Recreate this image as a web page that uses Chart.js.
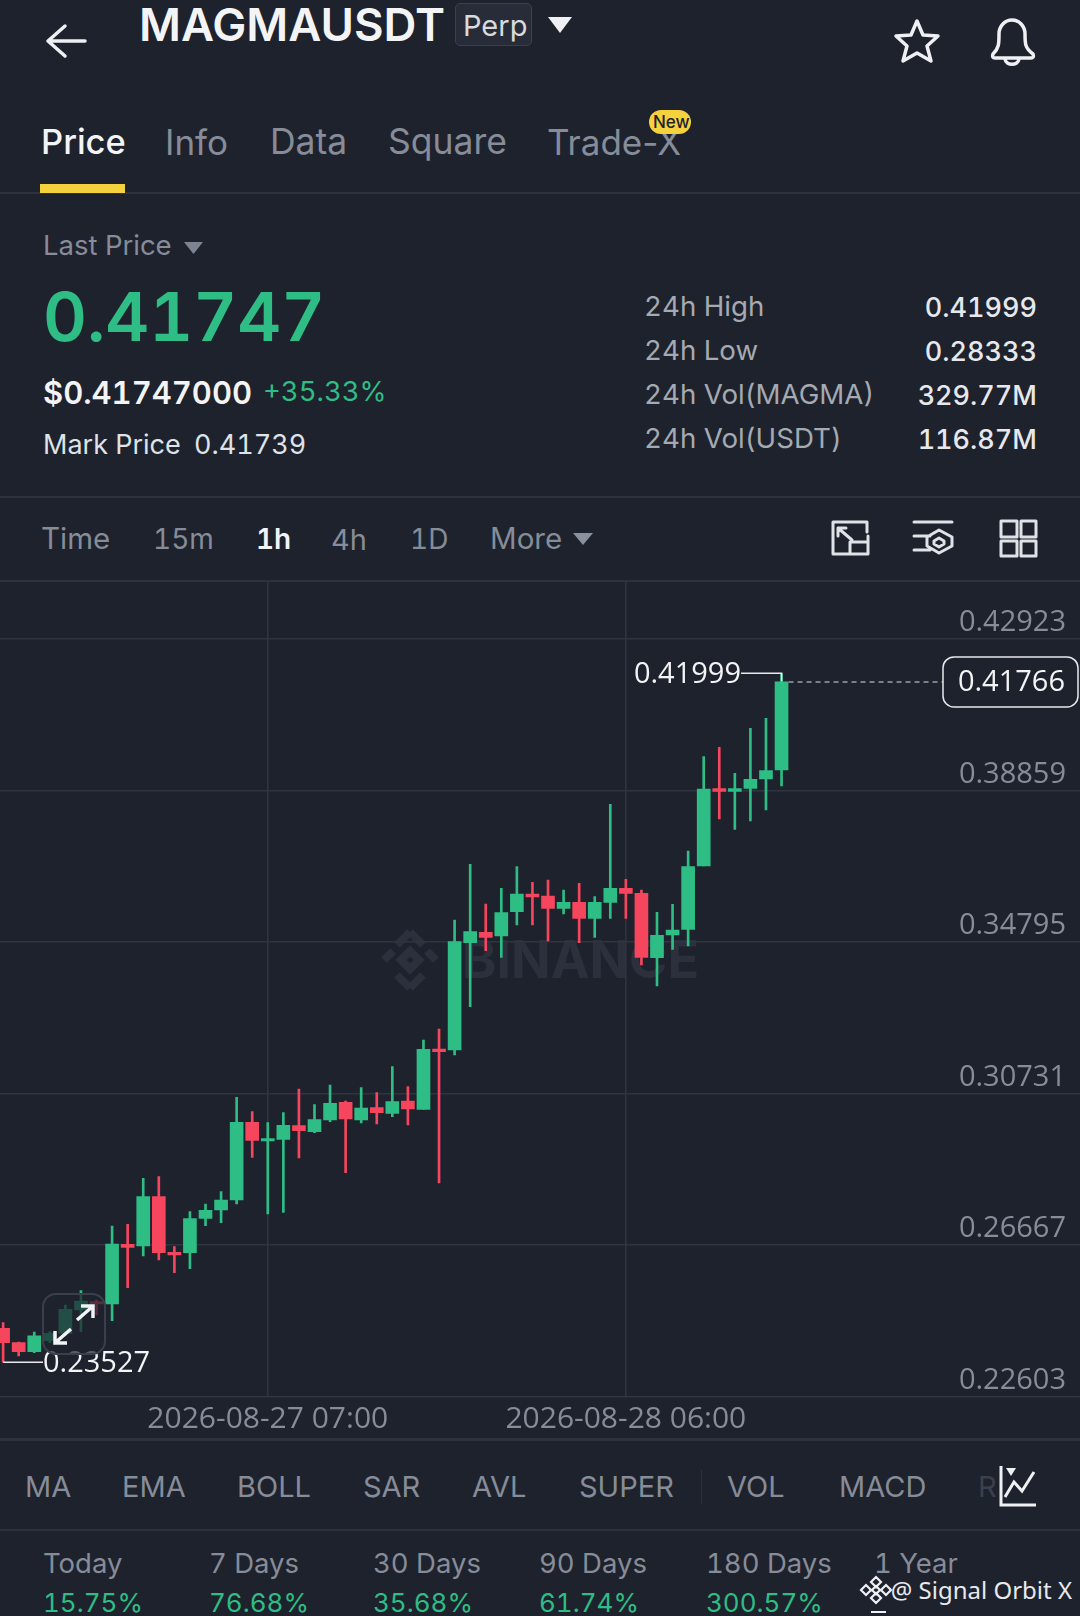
<!DOCTYPE html>
<html>
<head>
<meta charset="utf-8">
<title>MAGMAUSDT</title>
<script src="https://cdn.jsdelivr.net/npm/chart.js@4"></script>
<style>
  html, body { margin: 0; padding: 0; background: #1e222d; }
  #page { position: relative; width: 1080px; height: 1616px; overflow: hidden; background: #1e222d; font-family: Inter, sans-serif; }
  #page span.t { position: absolute; white-space: nowrap; line-height: 1; transform: translateY(-50%); font-feature-settings: "tnum"; }
  .line { position: absolute; left: 0; width: 1080px; background: #2c313c; }
  svg { position: absolute; overflow: visible; }
  #chart { position: absolute; left: 0; top: 581px; z-index: 1; }
  #expand { position: absolute; left: 42px; top: 1293px; width: 60px; height: 58px; border: 2px solid #3a3f4b; border-radius: 14px; background: rgba(30,34,45,0.72); z-index: 2; }
</style>
</head>
<body>
<div id="page">
  <div class="line" style="top:192px;height:2px"></div>
  <div style="position:absolute;left:40px;top:184px;width:85px;height:9px;background:#f5d13d"></div>
  <div class="line" style="top:496px;height:2px"></div>
  <div class="line" style="top:580px;height:2px"></div>
  <div class="line" style="top:1438px;height:3px"></div>
  <div class="line" style="top:1529px;height:2px"></div>
  <div style="position:absolute;left:455px;top:3px;width:77px;height:43px;border:1px solid #3a404c;border-radius:5px;background:#272c38;box-sizing:border-box"></div>
  <div style="position:absolute;left:649px;top:110px;width:42px;height:24px;border-radius:12px;background:#f5d13d;z-index:2"></div>
  <div style="position:absolute;left:701px;top:1470px;width:1px;height:34px;background:#2c313c"></div>

  <svg style="left:0;top:0" width="1080" height="600" fill="none" stroke="#eef0f3" stroke-width="3.5" stroke-linejoin="round" stroke-linecap="round">
    <path d="M85 41H49M65 26L48 41L65 56"/>
    <path fill="#eef0f3" stroke="none" d="M548 17H572L560 33Z"/>
    <path d="M917 21L923 35L938 36L927 46L931 61L917 53L903 61L907 46L896 36L911 35Z"/>
    <path d="M993 54C999 48 999 44 999 34C999 26 1005 20 1012 20C1019 20 1025 26 1025 34C1025 44 1025 48 1033 54C1034 57 1033 58 1031 58H995C993 58 992 57 993 54ZM1005 59C1006 66 1018 66 1019 59"/>
    <path fill="#7d8491" stroke="none" d="M184 242H203L193.500 254Z"/>
    <path fill="#8b919c" stroke="none" d="M573 533H593L583 545Z"/>
    <g stroke="#dfe2e6" stroke-width="3">
      <path d="M833 522V554H868V536M850 554V542H868M833 522H867V532M838 528L852 540M838 528H846M838 528V536" />
      <path d="M914 522H952M914 536H930M914 550H930M939 530L952 537V546L939 553L927 546V537ZM939 538L944 541V544L939 547L934 544V541Z"/>
      <path d="M1001 521H1017V537H1001ZM1021 521H1036V537H1021ZM1001 541H1017V556H1001ZM1021 541H1036V556H1021Z"/>
    </g>
  </svg>
  <svg style="left:0;top:1440px;z-index:3" width="1080" height="176" fill="none" stroke="#eef0f3" stroke-width="3">
    <path d="M1001 26V65H1036M1005 57L1014 42L1022 51L1034 32"/>
    <path fill="#eef0f3" stroke="none" d="M1006 28H1016L1011 36Z"/>
    <path stroke-width="2.200" d="M876 137L881 142L876 147L871 142ZM876 153L881 158L876 163L871 158ZM866 145L871 150L866 155L861 150ZM886 145L891 150L886 155L881 150ZM876 146L880 150L876 154L872 150Z"/>
    <path stroke-width="2" d="M871 172H886"/>
  </svg>

  <svg style="left:380px;top:928px;z-index:0" width="60" height="64" fill="none" stroke="#2b303c" stroke-width="8">
    <path d="M30 4L17 17M30 4L43 17M4 32L13 23M56 32L47 23M30 60L17 47M30 60L43 47M30 23L39 32L30 41L21 32Z"/>
  </svg>
  <div id="expand">
    <svg style="left:0;top:0" width="60" height="58" fill="none" stroke="#f2f3f5" stroke-width="3.500">
      <path d="M33 25L48 12M37 11H49V23M27 34L12 47M23 48H11V36"/>
    </svg>
  </div>
  <canvas id="chart" width="1080" height="857"></canvas>
</div>
<script>
// Candles, one per hour
const opens = [0.24435,0.24051,0.2381,0.24105,0.24301,0.24927,0.25151,0.25088,0.26688,0.26643,0.27965,0.26473,0.26464,0.27385,0.27608,0.27876,0.29958,0.29458,0.29502,0.29869,0.29708,0.30021,0.30494,0.30021,0.30351,0.302,0.3053,0.30307,0.31924,0.31897,0.34775,0.35052,0.34954,0.35606,0.3608,0.36026,0.35696,0.35857,0.35428,0.35857,0.36232,0.36098,0.34373,0.34981,0.35133,0.36831,0.38904,0.38833,0.38913,0.39163,0.39405];
const closes = [0.24051,0.2381,0.24238,0.24301,0.24945,0.25168,0.25088,0.26697,0.26607,0.27965,0.26464,0.26402,0.27376,0.27599,0.27876,0.29958,0.29476,0.2952,0.29878,0.29735,0.3003,0.30468,0.30048,0.30343,0.30217,0.30512,0.30316,0.31915,0.31853,0.34802,0.3507,0.34918,0.35579,0.3608,0.36,0.35696,0.35857,0.35428,0.35857,0.36232,0.36098,0.34382,0.34972,0.35115,0.36813,0.38895,0.38833,0.38904,0.39154,0.39387,0.41766];
const highs = [0.24587,0.24065,0.24337,0.24346,0.25061,0.25445,0.25195,0.27179,0.27224,0.28457,0.28502,0.26625,0.27563,0.27769,0.28099,0.30628,0.30244,0.29949,0.30217,0.30852,0.30432,0.30959,0.3053,0.30888,0.30754,0.31451,0.30914,0.32166,0.32461,0.35383,0.36876,0.35812,0.36232,0.36813,0.36393,0.36455,0.36187,0.36366,0.36009,0.38484,0.36473,0.36187,0.35588,0.35803,0.37233,0.39762,0.40012,0.39315,0.40522,0.4079,0.41999];
const lows = [0.23527,0.23694,0.23783,0.24051,0.2424,0.24346,0.24793,0.24641,0.25526,0.26375,0.26268,0.25928,0.26035,0.27188,0.27268,0.27769,0.2902,0.27501,0.27545,0.29002,0.29681,0.29976,0.28609,0.2994,0.29914,0.3011,0.29887,0.30307,0.28333,0.31763,0.33059,0.34561,0.34382,0.35249,0.35249,0.3482,0.35544,0.34775,0.34918,0.35428,0.35428,0.34176,0.33613,0.34596,0.34686,0.36831,0.38091,0.37814,0.38037,0.38332,0.38976];

// Axes
const priceTicks = [0.22603, 0.26667, 0.30731, 0.34795, 0.38859, 0.42923];
const timeTicks = [17, 40];
const timeLabels = ['2026-08-27 07:00', '2026-08-28 06:00'];
const lastPrice = 0.41766;

const GREEN = '#2ebd85';
const RED = '#f6465d';
const GRID = '#2f3440';
const GREY = '#868c98';
const AXIS_FONT = '"Open Sans"';

// Page text around the chart
const page = document.getElementById('page');
function put(text, x, y, size, color, weight, align, z, family) {
    const s = document.createElement('span');
    s.className = 't';
    s.textContent = text;
    s.style.top = y + 'px';
    s.style.fontSize = size + 'px';
    s.style.color = color;
    s.style.fontWeight = weight || 400;
    if (family) s.style.fontFamily = family;
    if (z !== undefined) s.style.zIndex = z;
    if (align === 'right') s.style.right = (1080 - x) + 'px';
    else s.style.left = x + 'px';
    page.appendChild(s);
    return s;
}

put('MAGMAUSDT', 139, 25, 45.5, '#f3f4f6', 600);
put('Perp', 463, 25, 29, '#d8dade');
put('Price', 41, 142, 34.5, '#f3f4f6', 500);
put('Info', 165, 142, 35, GREY);
put('Data', 270, 142, 35.5, GREY);
put('Square', 388, 142, 35.5, GREY);
put('Trade-X', 547, 142, 35, GREY).style.fontFeatureSettings = 'normal';
put('New', 653, 122, 17, '#1e222d', 500, 'left', 3);
put('Last Price', 43, 246, 27.5, GREY);
put('0.41747', 43, 316, 68, GREEN, 600);
put('$0.41747000', 43, 392, 31, '#f3f4f6', 600);
put('+35.33%', 263, 392, 27.5, GREEN, 400);
put('Mark Price', 43, 444, 27, '#dfe2e6');
put('0.41739', 194, 444, 27, '#dfe2e6');

const statLabels = ['24h High', '24h Low', '24h Vol(MAGMA)', '24h Vol(USDT)'];
const statValues = ['0.41999', '0.28333', '329.77M', '116.87M'];
const statRows = [307, 351, 395, 439];
statLabels.forEach((label, i) => {
    put(label, 644, statRows[i], 27.7, '#a4a9b2');
    put(statValues[i], 1037, statRows[i], 27, '#e6e8eb', 500, 'right');
});

put('Time', 41, 539, 29.5, GREY);
put('15m', 153, 539, 28, GREY);
put('1h', 256, 539, 28, '#f3f4f6', 600);
put('4h', 331, 539, 29, GREY);
put('1D', 410, 539, 28, GREY);
put('More', 490, 539, 29.5, GREY);

const indicators = ['MA', 'EMA', 'BOLL', 'SAR', 'AVL', 'SUPER', 'VOL', 'MACD'];
const indicatorX = [25, 122, 237, 363, 472, 579, 727, 839];
indicators.forEach((name, i) => put(name, indicatorX[i], 1486, 29, GREY));
put('R', 978, 1486, 29, '#3b404c');

const periods = ['Today', '7 Days', '30 Days', '90 Days', '180 Days', '1 Year'];
const periodGains = ['15.75%', '76.68%', '35.68%', '61.74%', '300.57%'];
const periodX = [43, 209, 373, 539, 706, 874];
periods.forEach((name, i) => put(name, periodX[i], 1564, 27.5, GREY));
periodGains.forEach((gain, i) => put(gain, periodX[i], 1603, 26, GREEN));

put('@ Signal Orbit X', 1072, 1590, 24, '#e8e9ec', 400, 'right', 3, '"Noto Sans"');
put('BINANCE', 462, 960, 52, '#2b303c', 700);

// High / low leaders and the last price tag
const overlay = {
    id: 'priceTags',
    afterDatasetsDraw(chart) {
        const { ctx, scales: { x, y } } = chart;
        const last = opens.length - 1;
        const hi = highs.indexOf(Math.max(...highs));
        const lo = lows.indexOf(Math.min(...lows));

        ctx.save();
        ctx.font = '29px ' + AXIS_FONT;
        ctx.textBaseline = 'middle';
        ctx.lineWidth = 1.5;
        ctx.strokeStyle = '#e8e9ec';
        ctx.fillStyle = '#f3f4f6';

        // 24h high
        ctx.beginPath();
        ctx.moveTo(x.getPixelForValue(hi), y.getPixelForValue(highs[hi]) + 8);
        ctx.lineTo(x.getPixelForValue(hi), y.getPixelForValue(highs[hi]));
        ctx.lineTo(741, y.getPixelForValue(highs[hi]));
        ctx.stroke();
        ctx.textAlign = 'right';
        ctx.fillText(highs[hi].toFixed(5), 741, y.getPixelForValue(highs[hi]) + 1);

        // low
        ctx.beginPath();
        ctx.moveTo(x.getPixelForValue(lo), y.getPixelForValue(lows[lo]));
        ctx.lineTo(43, y.getPixelForValue(lows[lo]));
        ctx.stroke();
        ctx.textAlign = 'left';
        ctx.fillText(lows[lo].toFixed(5), 43, y.getPixelForValue(lows[lo]) + 1);

        // last price
        const py = y.getPixelForValue(lastPrice);
        ctx.setLineDash([5, 4]);
        ctx.strokeStyle = '#9a9fa8';
        ctx.beginPath();
        ctx.moveTo(x.getPixelForValue(last) + 7, py);
        ctx.lineTo(943, py);
        ctx.stroke();
        ctx.setLineDash([]);
        ctx.strokeStyle = '#e8e9ec';
        ctx.fillStyle = '#1e222d';
        ctx.beginPath();
        ctx.roundRect(943, py - 25, 135, 50, 11);
        ctx.fill();
        ctx.stroke();
        ctx.fillStyle = '#f3f4f6';
        ctx.textAlign = 'right';
        ctx.fillText(lastPrice.toFixed(5), 1065, py + 1);
        ctx.restore();
    }
};

new Chart(document.getElementById('chart'), {
    type: 'bar',
    data: {
        datasets: [
            {
                label: 'Wick',
                data: opens.map((_, i) => ({ x: i, y: [lows[i], highs[i]] })),
                backgroundColor: opens.map((o, i) => (closes[i] >= o ? GREEN : RED)),
                barThickness: 2,
                order: 2
            },
            {
                label: 'Body',
                data: opens.map((o, i) => ({ x: i, y: [o, closes[i]] })),
                backgroundColor: opens.map((o, i) => (closes[i] >= o ? GREEN : RED)),
                barThickness: 13,
                minBarLength: 2,
                order: 1
            }
        ]
    },
    options: {
        responsive: false,
        animation: false,
        grouped: false,
        layout: { padding: 0 },
        plugins: { legend: { display: false }, tooltip: { enabled: false } },
        scales: {
            x: {
                type: 'linear',
                offset: false,
                min: -0.2,
                max: 69.17,
                afterBuildTicks(scale) { scale.ticks = timeTicks.map(v => ({ value: v })); },
                afterFit(scale) {
                    scale.height = 41.3;
                    scale.paddingLeft = 0;
                    scale.paddingRight = 0;
                },
                grid: { offset: false, color: GRID, lineWidth: 1.5, drawTicks: false },
                border: { display: false },
                ticks: {
                    color: GREY,
                    font: { family: AXIS_FONT, size: 30 },
                    padding: 5,
                    maxRotation: 0,
                    autoSkip: false,
                    callback: v => timeLabels[timeTicks.indexOf(v)]
                }
            },
            y: {
                position: 'right',
                min: 0.22603,
                max: 0.44472,
                afterBuildTicks(scale) { scale.ticks = priceTicks.map(v => ({ value: v })); },
                afterFit(scale) {
                    scale.width = 0;
                    scale.paddingTop = 0;
                    scale.paddingBottom = 0;
                },
                grid: { color: GRID, lineWidth: 1.5, drawTicks: false },
                border: { display: false },
                ticks: {
                    mirror: true,
                    color: GREY,
                    font: { family: AXIS_FONT, size: 29 },
                    padding: -14,
                    labelOffset: -16,
                    callback: v => v.toFixed(5)
                }
            }
        }
    },
    plugins: [overlay]
});
</script>
</body>
</html>
